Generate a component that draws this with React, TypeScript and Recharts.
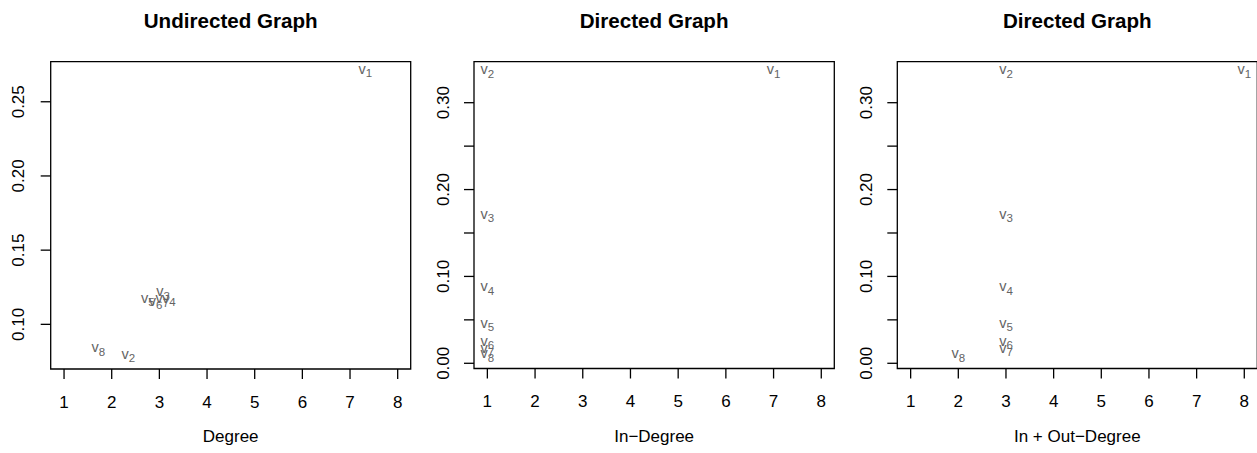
import React from "react";
import { ScatterChart, Scatter, XAxis, YAxis, ReferenceArea } from "recharts";

// vertex names v1..v8 (subscripts)
const vertices = ["1", "2", "3", "4", "5", "6", "7", "8"];

// undirected graph: degree vs centrality
const degree = [7.32, 2.35, 3.08, 3.2, 2.76, 2.92, 3.06, 1.72];
const centrality = [0.2691, 0.0771, 0.1193, 0.115, 0.115, 0.113, 0.1144, 0.0815];

// directed graph
const inDegree = [7, 1, 1, 1, 1, 1, 1, 1];
const inOutDegree = [8, 3, 3, 3, 3, 3, 3, 2];
const rank = [0.3333, 0.3333, 0.1667, 0.0833, 0.0417, 0.0205, 0.0125, 0.0065];

const xTicks = [1, 2, 3, 4, 5, 6, 7, 8];
const yTicksUndirected = [0.1, 0.15, 0.2, 0.25];
const yTicksDirected = [0, 0.05, 0.1, 0.15, 0.2, 0.25, 0.3];
const yLabelsDirected = [0, 0.1, 0.2, 0.3];

const FONT = "'Liberation Sans', Arial, Helvetica, sans-serif";
const H = 453;
const TOP = 61.7;

const toRows = (xs: number[], ys: number[]) =>
  vertices.map((v, i) => ({ label: v, x: xs[i], y: ys[i] }));

const VertexLabel = (props: any) => {
  const { cx, cy, payload } = props;
  if (cx == null || cy == null) return <g />;
  return (
    <text x={cx} y={cy + 0.5} textAnchor="middle" fill="#636363" fontSize={14.5} fontFamily={FONT}>
      <tspan>v</tspan>
      <tspan dy={3.5} fontSize={11.5}>{payload.label}</tspan>
    </text>
  );
};

const XTick = (props: any) => {
  const { x, y, payload } = props;
  return (
    <text x={x} y={y} textAnchor="middle" dominantBaseline="central" fontSize={17} fontFamily={FONT} fill="#000">
      {payload.value}
    </text>
  );
};

const makeYTick = (labeled: number[]) => (props: any) => {
  const { x, y, payload } = props;
  const show = labeled.some((l) => Math.abs(l - payload.value) < 1e-9);
  if (!show) return <g />;
  return (
    <text
      x={x}
      y={y}
      transform={`rotate(-90 ${x} ${y})`}
      textAnchor="middle"
      dominantBaseline="central"
      fontSize={17}
      fontFamily={FONT}
      fill="#000"
    >
      {payload.value.toFixed(2)}
    </text>
  );
};

type PanelProps = {
  left: number;
  width: number;
  yAxisWidth: number;
  right: number;
  bottom: number;
  yMargin: number;
  title: string;
  xLabel: string;
  data: { label: string; x: number; y: number }[];
  yDomain: [number, number];
  yTicks: number[];
  yLabels: number[];
};

function Panel(p: PanelProps) {
  const xDomain: [number, number] = [0.72, 8.273];
  const plotLeft = p.left + p.yAxisWidth;
  const plotWidth = p.width - p.yAxisWidth - p.right;
  return (
    <>
      <div
        style={{
          position: "absolute",
          left: plotLeft,
          width: plotWidth,
          top: 9,
          height: 24,
          lineHeight: "24px",
          textAlign: "center",
          fontWeight: "bold",
          fontSize: 20.6,
          fontFamily: FONT,
        }}
      >
        {p.title}
      </div>
      <div style={{ position: "absolute", left: p.left, top: 0 }}>
        <ScatterChart width={p.width} height={H} margin={{ top: TOP, right: p.right, bottom: 0, left: 0 }}>
          <XAxis
            dataKey="x"
            type="number"
            domain={xDomain}
            allowDataOverflow
            ticks={xTicks}
            interval={0}
            height={p.bottom}
            axisLine={false}
            tickLine={{ stroke: "#000", strokeWidth: 1.3 }}
            tickSize={10}
            tickMargin={23}
            tick={<XTick />}
          />
          <YAxis
            dataKey="y"
            type="number"
            domain={p.yDomain}
            allowDataOverflow
            ticks={p.yTicks}
            interval={0}
            width={p.yAxisWidth}
            axisLine={false}
            tickLine={{ stroke: "#000", strokeWidth: 1.3 }}
            tickSize={10}
            tickMargin={p.yMargin}
            tick={makeYTick(p.yLabels)}
          />
          <ReferenceArea
            x1={xDomain[0]}
            x2={xDomain[1]}
            y1={p.yDomain[0]}
            y2={p.yDomain[1]}
            fill="none"
            fillOpacity={0}
            stroke="#000"
            strokeWidth={1.3}
          />
          <Scatter data={p.data} shape={<VertexLabel />} isAnimationActive={false} />
        </ScatterChart>
      </div>
      <div
        style={{
          position: "absolute",
          left: plotLeft,
          width: plotWidth,
          top: 426,
          height: 22,
          lineHeight: "22px",
          textAlign: "center",
          fontSize: 17,
          fontFamily: FONT,
        }}
      >
        {p.xLabel}
      </div>
    </>
  );
}

export default function App() {
  return (
    <div
      style={{
        position: "absolute",
        left: 0,
        top: 0,
        width: 1257,
        height: H,
        overflow: "hidden",
        background: "#fff",
      }}
    >
      <Panel
        left={0}
        width={420}
        yAxisWidth={50.7}
        right={9.3}
        bottom={84}
        yMargin={21.7}
        title="Undirected Graph"
        xLabel="Degree"
        data={toRows(degree, centrality)}
        yDomain={[0.0699, 0.277]}
        yTicks={yTicksUndirected}
        yLabels={yTicksUndirected}
      />
      <Panel
        left={420}
        width={420}
        yAxisWidth={54}
        right={5.7}
        bottom={84.5}
        yMargin={20}
        title="Directed Graph"
        xLabel="In−Degree"
        data={toRows(inDegree, rank)}
        yDomain={[-0.006, 0.3472]}
        yTicks={yTicksDirected}
        yLabels={yLabelsDirected}
      />
      <Panel
        left={840}
        width={420}
        yAxisWidth={57.3}
        right={2.7}
        bottom={84.5}
        yMargin={20.3}
        title="Directed Graph"
        xLabel="In + Out−Degree"
        data={toRows(inOutDegree, rank)}
        yDomain={[-0.006, 0.3472]}
        yTicks={yTicksDirected}
        yLabels={yLabelsDirected}
      />
    </div>
  );
}
